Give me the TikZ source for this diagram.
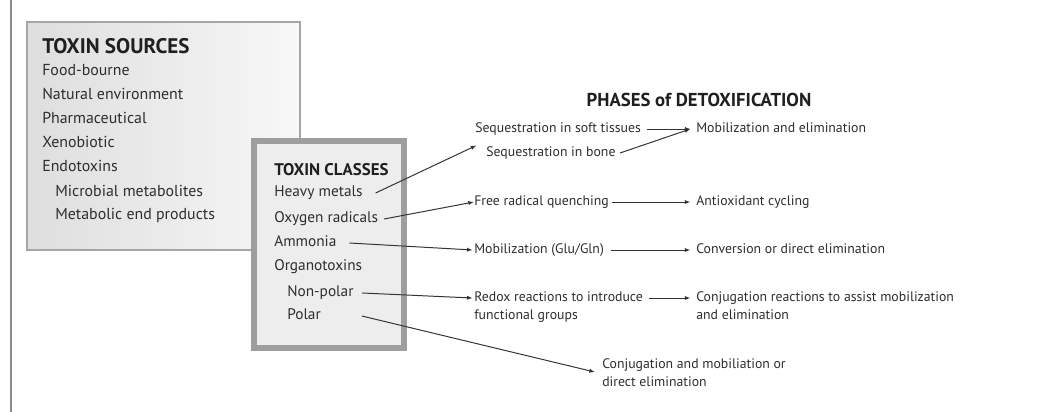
\documentclass[tikz,border=0pt]{standalone}
\usepackage{fontspec}
\setmainfont{PT Sans}
\usetikzlibrary{arrows.meta}
\tikzset{
  sourcebox/.style={left color=black!13, right color=black!3, draw=black!35, line width=0.9pt},
  classbox/.style={fill=black!7, draw=black!38, line width=3.6pt},
  bighead/.style={font=\bfseries\fontsize{15}{17}\selectfont, text=black!88, anchor=west, inner sep=0pt},
  smallhead/.style={font=\bfseries\fontsize{12}{14}\selectfont, text=black!88, anchor=west, inner sep=0pt},
  item/.style={font=\fontsize{9.8}{12}\selectfont, text=black!82, anchor=west, inner sep=0pt, text height=7pt, text depth=2pt},
  srcitem/.style={item, font=\fontsize{11.3}{13}\selectfont},
  clsitem/.style={item, font=\fontsize{10.9}{13}\selectfont},
  twoline/.style={font=\fontsize{9.8}{13.4}\selectfont, text=black!82, anchor=north west, inner sep=0pt, align=left},
  flow/.style={-{Latex[length=4pt,width=3pt]}, line width=0.7pt, draw=black!80},
}

\begin{document}
\begin{tikzpicture}[x=0.025cm, y=-0.025cm]
\useasboundingbox (0,0) rectangle (1040,412);
\draw[black!45, line width=1.4pt] (11,0) -- (11,412);
% toxin sources
\draw[sourcebox] (27,22) rectangle (300,250);
\node[bighead] (srchead) at (42,46) {TOXIN SOURCES};
\node[srcitem] (food) at (42,72) {Food-bourne};
\node[srcitem] (natural) at (42,96) {Natural environment};
\node[srcitem] (pharma) at (42,120) {Pharmaceutical};
\node[srcitem] (xeno) at (42,144) {Xenobiotic};
\node[srcitem] (endo) at (42,168) {Endotoxins};
\node[srcitem] (microbial) at (55,193) {Microbial metabolites};
\node[srcitem] (metabolic) at (55,216) {Metabolic end products};
% toxin classes
\draw[classbox] (254,141) rectangle (404,348);
\node[smallhead] (clshead) at (274,170) {TOXIN CLASSES};
\node[clsitem] (heavy) at (274,193) {Heavy metals};
\node[clsitem] (oxygen) at (274,219) {Oxygen radicals};
\node[clsitem] (ammonia) at (274,243) {Ammonia};
\node[clsitem] (organo) at (274,267) {Organotoxins};
\node[clsitem] (nonpolar) at (287,293) {Non-polar};
\node[clsitem] (polar) at (287,316) {Polar};
% phases
\node[bighead, anchor=center, font=\bfseries\fontsize{13.3}{15}\selectfont] (phases) at (699,100) {PHASES of DETOXIFICATION};
\node[item] (soft) at (475,129) {Sequestration in soft tissues};
\node[item] (bone) at (486,153) {Sequestration in bone};
\node[item] (quench) at (474,202) {Free radical quenching};
\node[item] (mobil) at (474,250) {Mobilization (Glu/Gln)};
\node[twoline] (redox) at (474,291) {Redox reactions to introduce\\functional groups};
\node[item] (mobelim) at (696,129) {Mobilization and elimination};
\node[item] (antiox) at (696,202) {Antioxidant cycling};
\node[item] (conv) at (696,250) {Conversion or direct elimination};
\node[twoline] (conj) at (696,291) {Conjugation reactions to assist mobilization\\and elimination};
\node[twoline] (conjpol) at (602,358) {Conjugation and mobiliation or\\direct elimination};
% arrows
\draw[flow] ([xshift=9pt]heavy.east) -- ([shift={(1pt,-7pt)}]soft.south west);
\draw[flow] ([xshift=4pt]oxygen.east) -- (quench.west);
\draw[flow] ([xshift=9pt]ammonia.east) -- ([xshift=-1pt]mobil.west);
\draw[flow] ([xshift=6pt]nonpolar.east) -- ([shift={(-1pt,-5pt)}]redox.north west);
\draw[flow] ([xshift=29pt]polar.east) -- ([shift={(-5pt,-10pt)}]conjpol.north west);
\draw[flow] ([xshift=4pt]soft.east) -- ([xshift=-4pt]mobelim.west);
\draw[flow] ([xshift=3pt]bone.east) -- ([xshift=-4pt]mobelim.west);
\draw[flow] ([xshift=2pt]quench.east) -- ([xshift=-4pt]antiox.west);
\draw[flow] ([xshift=5pt]mobil.east) -- ([xshift=-4pt]conv.west);
\draw[flow] ([shift={(4pt,-5pt)}]redox.north east) -- ([shift={(-4pt,-5pt)}]conj.north west);
\end{tikzpicture}
\end{document}
